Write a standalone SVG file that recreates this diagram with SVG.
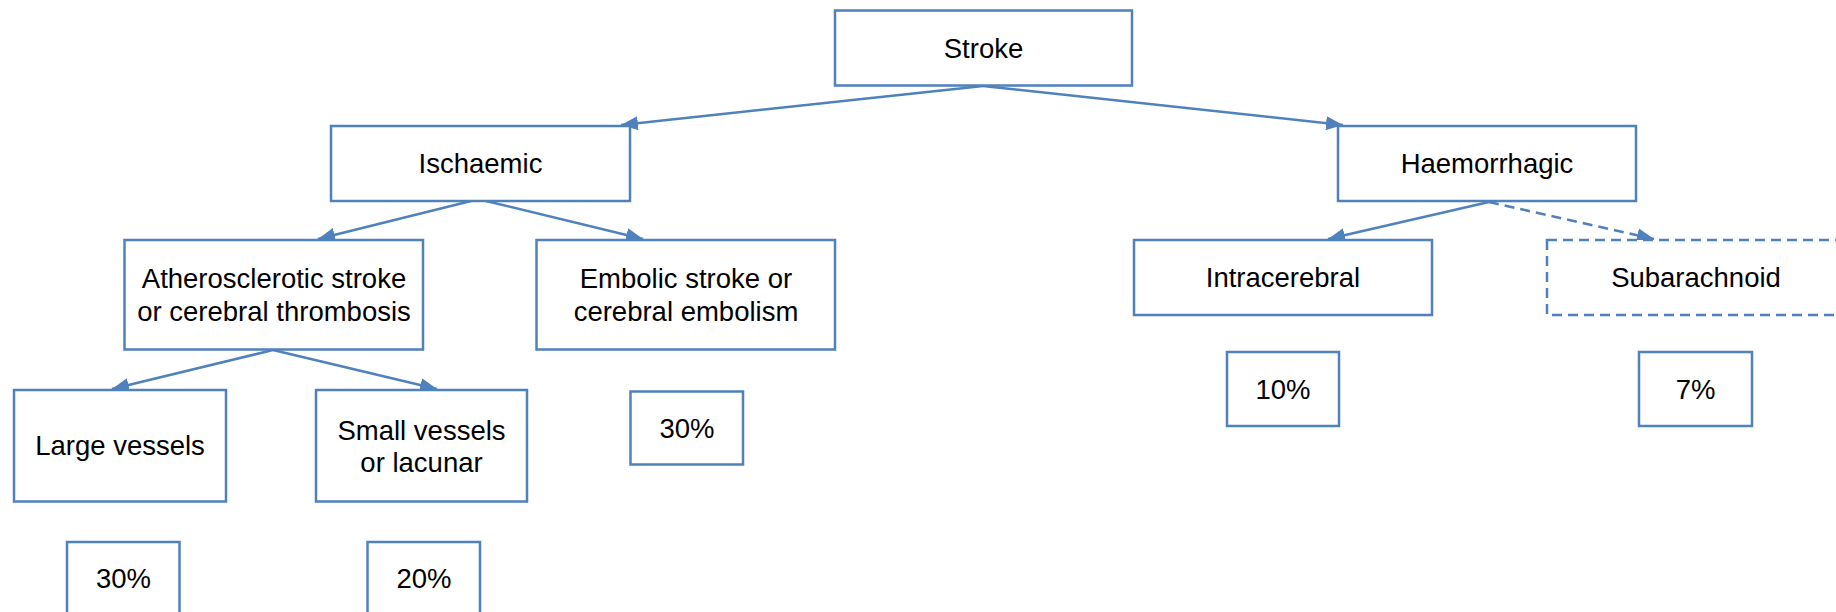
<svg xmlns="http://www.w3.org/2000/svg" width="1836" height="612" viewBox="0 0 1836 612">
<style>
.box{fill:#fff;stroke:#4f81bd;stroke-width:2.5}
.dash{stroke-dasharray:10 6}
.lbl{font-family:"Liberation Sans",Arial,sans-serif;font-size:27.5px;fill:#000;text-anchor:middle}
.con{fill:none;stroke:#4f81bd;stroke-width:2.5}
</style>
<defs>
<marker id="arr" markerUnits="userSpaceOnUse" markerWidth="18" markerHeight="14" refX="17" refY="7" orient="auto">
<path d="M0,0 L17,7 L0,14 z" fill="#4f81bd"/>
</marker>
</defs>
<rect width="1836" height="612" fill="#fff"/>
<g id="connectors">
<line class="con" x1="983" y1="86" x2="621" y2="125" marker-end="url(#arr)"/>
<line class="con" x1="983" y1="86" x2="1343" y2="125" marker-end="url(#arr)"/>
<line class="con" x1="471" y1="201" x2="318" y2="239" marker-end="url(#arr)"/>
<line class="con" x1="486" y1="201" x2="643" y2="239" marker-end="url(#arr)"/>
<line class="con" x1="273" y1="350" x2="112" y2="389" marker-end="url(#arr)"/>
<line class="con" x1="273" y1="350" x2="437" y2="389" marker-end="url(#arr)"/>
<line class="con" x1="1489" y1="202" x2="1328" y2="239" marker-end="url(#arr)"/>
<line class="con dash" x1="1489" y1="202" x2="1654" y2="239" marker-end="url(#arr)"/>
</g>
<g id="stroke"><rect class="box" x="835" y="10.5" width="297" height="75"/><text class="lbl" x="983.5" y="58">Stroke</text></g>
<g id="ischaemic"><rect class="box" x="331" y="126" width="299" height="75"/><text class="lbl" x="480.5" y="173">Ischaemic</text></g>
<g id="haemorrhagic"><rect class="box" x="1338" y="126" width="298" height="75"/><text class="lbl" x="1487" y="173">Haemorrhagic</text></g>
<g id="athero"><rect class="box" x="124.5" y="240" width="298.5" height="109.5"/><text class="lbl" x="274" y="288">Atherosclerotic stroke</text><text class="lbl" x="274" y="321">or cerebral thrombosis</text></g>
<g id="embolic"><rect class="box" x="536.5" y="240" width="298.5" height="109.5"/><text class="lbl" x="686" y="288">Embolic stroke or</text><text class="lbl" x="686" y="321">cerebral embolism</text></g>
<g id="intracerebral"><rect class="box" x="1134" y="240" width="298" height="75"/><text class="lbl" x="1283" y="287">Intracerebral</text></g>
<g id="subarachnoid"><rect class="box dash" x="1547" y="240" width="298" height="75"/><text class="lbl" x="1696" y="287">Subarachnoid</text></g>
<g id="large"><rect class="box" x="14" y="390" width="212" height="111.5"/><text class="lbl" x="120" y="455">Large vessels</text></g>
<g id="small"><rect class="box" x="316" y="390" width="211" height="111.5"/><text class="lbl" x="421.5" y="440">Small vessels</text><text class="lbl" x="421.5" y="472">or lacunar</text></g>
<g id="p30e"><rect class="box" x="630.5" y="391.5" width="112.5" height="73"/><text class="lbl" x="687" y="438">30%</text></g>
<g id="p10"><rect class="box" x="1227" y="352" width="112" height="74"/><text class="lbl" x="1283" y="399">10%</text></g>
<g id="p7"><rect class="box" x="1639" y="352" width="113" height="74"/><text class="lbl" x="1695.5" y="399">7%</text></g>
<g id="p30l"><rect class="box" x="67" y="542" width="112.5" height="74"/><text class="lbl" x="123.5" y="588">30%</text></g>
<g id="p20"><rect class="box" x="367.5" y="542" width="112.5" height="74"/><text class="lbl" x="424" y="588">20%</text></g>
</svg>
